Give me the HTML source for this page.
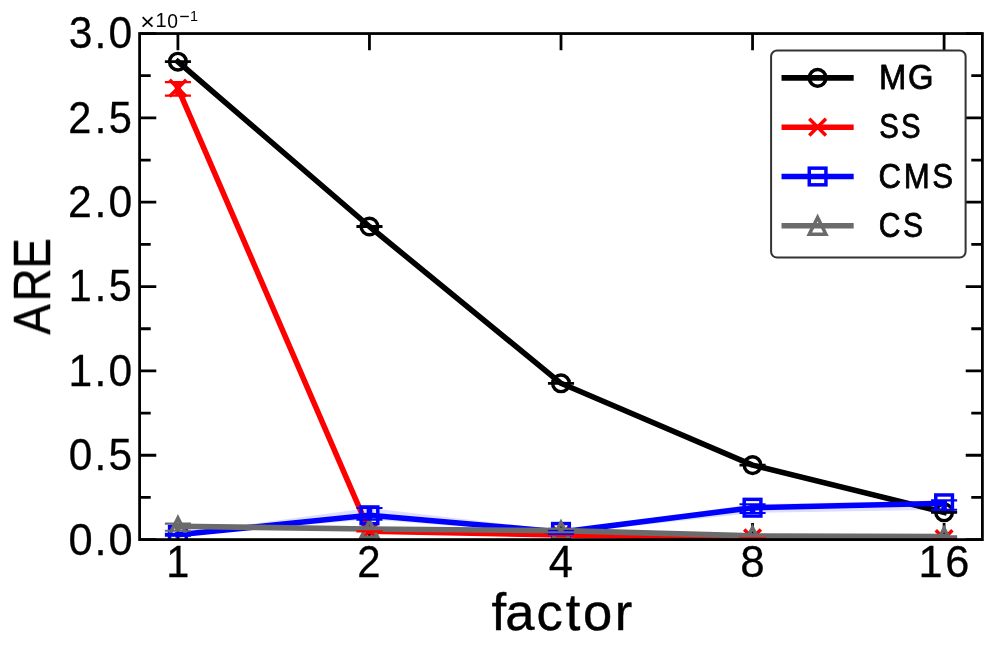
<!DOCTYPE html><html><head><meta charset="utf-8"><style>html,body{margin:0;padding:0;background:#fff;overflow:hidden;width:996px;height:654px;}svg{display:block;}text{font-family:"Liberation Sans",sans-serif;font-kerning:none;fill:#000;}</style></head><body>
<svg width="996" height="654" viewBox="0 0 996 654">
<rect width="996" height="654" fill="#fff"/>
<defs><clipPath id="ax"><rect x="139.60" y="33.55" width="842.80" height="506.05"/></clipPath></defs>
<polygon clip-path="url(#ax)" points="177.91,533.80 369.45,508.00 561.00,530.60 752.55,504.30 944.09,500.40 944.09,509.80 752.55,513.00 561.00,534.00 369.45,519.60 177.91,535.80" fill="#0000ff" fill-opacity="0.13"/>
<path d="M177.91 33.55V50.22M177.91 539.60V522.93M369.45 33.55V50.22M369.45 539.60V522.93M561.00 33.55V50.22M561.00 539.60V522.93M752.55 33.55V50.22M752.55 539.60V522.93M944.09 33.55V50.22M944.09 539.60V522.93M139.60 539.60H156.27M982.40 539.60H965.73M139.60 455.26H156.27M982.40 455.26H965.73M139.60 370.92H156.27M982.40 370.92H965.73M139.60 286.58H156.27M982.40 286.58H965.73M139.60 202.23H156.27M982.40 202.23H965.73M139.60 117.89H156.27M982.40 117.89H965.73M139.60 33.55H156.27M982.40 33.55H965.73M139.60 497.43H150.71M982.40 497.43H971.29M139.60 413.09H150.71M982.40 413.09H971.29M139.60 328.75H150.71M982.40 328.75H971.29M139.60 244.40H150.71M982.40 244.40H971.29M139.60 160.06H150.71M982.40 160.06H971.29M139.60 75.72H150.71M982.40 75.72H971.29" stroke="#000" stroke-width="2.78" fill="none"/>
<g clip-path="url(#ax)">
<polyline points="177.91,61.70 369.45,226.50 561.00,383.30 752.55,465.10 944.09,512.30" fill="none" stroke="#000000" stroke-width="5.56" stroke-linejoin="round" stroke-linecap="square"/>
<circle cx="177.91" cy="61.70" r="8.335" fill="none" stroke="#000000" stroke-width="3.47"/>
<circle cx="369.45" cy="226.50" r="8.335" fill="none" stroke="#000000" stroke-width="3.47"/>
<circle cx="561.00" cy="383.30" r="8.335" fill="none" stroke="#000000" stroke-width="3.47"/>
<circle cx="752.55" cy="465.10" r="8.335" fill="none" stroke="#000000" stroke-width="3.47"/>
<circle cx="944.09" cy="512.30" r="8.335" fill="none" stroke="#000000" stroke-width="3.47"/>
<polyline points="177.91,88.15 369.45,531.20 561.00,535.00 752.55,537.80 944.09,538.60" fill="none" stroke="#ff0000" stroke-width="5.56" stroke-linejoin="round" stroke-linecap="square"/>
<path d="M169.57 79.81L186.24 96.49M169.57 96.49L186.24 79.81" fill="none" stroke="#ff0000" stroke-width="3.47" stroke-linecap="butt"/>
<path d="M361.12 522.87L377.79 539.54M361.12 539.54L377.79 522.87" fill="none" stroke="#ff0000" stroke-width="3.47" stroke-linecap="butt"/>
<path d="M552.66 526.66L569.34 543.34M552.66 543.34L569.34 526.66" fill="none" stroke="#ff0000" stroke-width="3.47" stroke-linecap="butt"/>
<path d="M744.21 529.46L760.88 546.13M744.21 546.13L760.88 529.46" fill="none" stroke="#ff0000" stroke-width="3.47" stroke-linecap="butt"/>
<path d="M935.76 530.26L952.43 546.94M935.76 546.94L952.43 530.26" fill="none" stroke="#ff0000" stroke-width="3.47" stroke-linecap="butt"/>
<polyline points="177.91,534.80 369.45,515.30 561.00,531.90 752.55,507.70 944.09,503.30" fill="none" stroke="#0000ff" stroke-width="5.56" stroke-linejoin="round" stroke-linecap="square"/>
<rect x="169.57" y="526.46" width="16.67" height="16.67" fill="none" stroke="#0000ff" stroke-width="3.47" stroke-linejoin="miter"/>
<rect x="361.12" y="506.96" width="16.67" height="16.67" fill="none" stroke="#0000ff" stroke-width="3.47" stroke-linejoin="miter"/>
<rect x="552.66" y="523.56" width="16.67" height="16.67" fill="none" stroke="#0000ff" stroke-width="3.47" stroke-linejoin="miter"/>
<rect x="744.21" y="499.37" width="16.67" height="16.67" fill="none" stroke="#0000ff" stroke-width="3.47" stroke-linejoin="miter"/>
<rect x="935.76" y="494.97" width="16.67" height="16.67" fill="none" stroke="#0000ff" stroke-width="3.47" stroke-linejoin="miter"/>
<polyline points="177.91,526.30 369.45,529.00 561.00,530.60 752.55,535.90 944.09,536.60" fill="none" stroke="#6b6b6b" stroke-width="5.56" stroke-linejoin="round" stroke-linecap="square"/>
<path d="M177.91 517.96L169.57 534.63L186.24 534.63Z" fill="none" stroke="#6b6b6b" stroke-width="3.47" stroke-linejoin="miter" stroke-miterlimit="10"/>
<path d="M369.45 520.66L361.12 537.34L377.79 537.34Z" fill="none" stroke="#6b6b6b" stroke-width="3.47" stroke-linejoin="miter" stroke-miterlimit="10"/>
<path d="M561.00 522.26L552.66 538.94L569.34 538.94Z" fill="none" stroke="#6b6b6b" stroke-width="3.47" stroke-linejoin="miter" stroke-miterlimit="10"/>
<path d="M752.55 527.56L744.21 544.24L760.88 544.24Z" fill="none" stroke="#6b6b6b" stroke-width="3.47" stroke-linejoin="miter" stroke-miterlimit="10"/>
<path d="M944.09 528.26L935.76 544.94L952.43 544.94Z" fill="none" stroke="#6b6b6b" stroke-width="3.47" stroke-linejoin="miter" stroke-miterlimit="10"/>
<path d="M177.91 61.35V62.05M369.45 226.15V226.85M561.00 382.95V383.65M752.55 464.75V465.45M944.09 511.95V512.65" stroke="#000000" stroke-width="5.56" fill="none"/>
<path d="M164.86 61.35H190.96M164.86 62.05H190.96M356.40 226.15H382.50M356.40 226.85H382.50M547.95 382.95H574.05M547.95 383.65H574.05M739.50 464.75H765.60M739.50 465.45H765.60M931.04 511.95H957.14M931.04 512.65H957.14" stroke="#000000" stroke-width="2.08" fill="none"/>
<path d="M177.91 82.10V95.60M369.45 531.00V531.40M561.00 534.80V535.20M752.55 536.90V538.70M944.09 538.30V538.90" stroke="#ff0000" stroke-width="5.56" fill="none"/>
<path d="M164.86 82.10H190.96M164.86 95.60H190.96M356.40 531.00H382.50M356.40 531.40H382.50M547.95 534.80H574.05M547.95 535.20H574.05M739.50 536.90H765.60M739.50 538.70H765.60M931.04 538.30H957.14M931.04 538.90H957.14" stroke="#ff0000" stroke-width="2.08" fill="none"/>
<path d="M177.91 533.80V535.80M369.45 508.00V519.60M561.00 530.60V534.00M752.55 504.30V513.00M944.09 500.40V509.80" stroke="#0000ff" stroke-width="5.56" fill="none"/>
<path d="M164.86 533.80H190.96M164.86 535.80H190.96M356.40 508.00H382.50M356.40 519.60H382.50M547.95 530.60H574.05M547.95 534.00H574.05M739.50 504.30H765.60M739.50 513.00H765.60M931.04 500.40H957.14M931.04 509.80H957.14" stroke="#0000ff" stroke-width="2.08" fill="none"/>
<path d="M177.91 523.60V530.70M369.45 528.70V529.30M561.00 528.70V532.20M752.55 535.60V536.20M944.09 536.30V536.90" stroke="#6b6b6b" stroke-width="5.56" fill="none"/>
<path d="M164.86 523.60H190.96M164.86 530.70H190.96M356.40 528.70H382.50M356.40 529.30H382.50M547.95 528.70H574.05M547.95 532.20H574.05M739.50 535.60H765.60M739.50 536.20H765.60M931.04 536.30H957.14M931.04 536.90H957.14" stroke="#6b6b6b" stroke-width="2.08" fill="none"/>
</g>
<rect x="139.60" y="33.55" width="842.80" height="506.05" fill="none" stroke="#000" stroke-width="2.78" stroke-linejoin="miter"/>
<rect x="771.10" y="50.50" width="194.50" height="207.10" rx="6" ry="6" fill="#fff" stroke="#333" stroke-width="2"/>
<path d="M784.30 77.85H850.90" stroke="#000000" stroke-width="5.56" stroke-linecap="square"/>
<circle cx="817.60" cy="77.85" r="8.335" fill="none" stroke="#000000" stroke-width="3.47"/>
<path d="M784.30 127.17H850.90" stroke="#ff0000" stroke-width="5.56" stroke-linecap="square"/>
<path d="M809.26 118.83L825.93 135.50M809.26 135.50L825.93 118.83" fill="none" stroke="#ff0000" stroke-width="3.47" stroke-linecap="butt"/>
<path d="M784.30 176.49H850.90" stroke="#0000ff" stroke-width="5.56" stroke-linecap="square"/>
<rect x="809.26" y="168.16" width="16.67" height="16.67" fill="none" stroke="#0000ff" stroke-width="3.47" stroke-linejoin="miter"/>
<path d="M784.30 225.81H850.90" stroke="#6b6b6b" stroke-width="5.56" stroke-linecap="square"/>
<path d="M817.60 217.47L809.26 234.15L825.93 234.15Z" fill="none" stroke="#6b6b6b" stroke-width="3.47" stroke-linejoin="miter" stroke-miterlimit="10"/>
<g style="will-change:transform">
<text transform="scale(0.9793,1)" x="69.86 96.43 110.68" y="554.51" font-size="44.34" stroke="#000" stroke-width="0.30" stroke-linejoin="round">0.0</text>
<text transform="scale(0.9538,1)" x="72.05 99.16 113.79" y="470.17" font-size="44.34" stroke="#000" stroke-width="0.30" stroke-linejoin="round">0.5</text>
<text transform="scale(0.9593,1)" x="71.36 98.57 113.24" y="385.83" font-size="44.34" stroke="#000" stroke-width="0.30" stroke-linejoin="round">1.0</text>
<text transform="scale(0.9355,1)" x="73.54 101.24 116.29" y="301.49" font-size="44.20" stroke="#000" stroke-width="0.30" stroke-linejoin="round">1.5</text>
<text transform="scale(0.9630,1)" x="70.68 98.17 112.76" y="217.14" font-size="44.34" stroke="#000" stroke-width="0.30" stroke-linejoin="round">2.0</text>
<text transform="scale(0.9369,1)" x="72.98 101.07 116.06" y="132.80" font-size="44.34" stroke="#000" stroke-width="0.30" stroke-linejoin="round">2.5</text>
<text transform="scale(0.9613,1)" x="71.45 98.34 112.98" y="48.46" font-size="44.34" stroke="#000" stroke-width="0.30" stroke-linejoin="round">3.0</text>
<text transform="scale(0.9437,1)" x="176.08" y="577.25" font-size="43.96" stroke="#000" stroke-width="0.30" stroke-linejoin="round">1</text>
<text transform="scale(0.9503,1)" x="375.92" y="577.25" font-size="44.11" stroke="#000" stroke-width="0.30" stroke-linejoin="round">2</text>
<text transform="scale(0.9913,1)" x="553.70" y="577.25" font-size="43.96" stroke="#000" stroke-width="0.30" stroke-linejoin="round">4</text>
<text transform="scale(0.9926,1)" x="745.84" y="577.41" font-size="44.34" stroke="#000" stroke-width="0.30" stroke-linejoin="round">8</text>
<text transform="scale(0.9774,1)" x="939.69 967.19" y="577.41" font-size="44.34" stroke="#000" stroke-width="0.30" stroke-linejoin="round">16</text>
<text transform="scale(1.0320,1)" x="476.36 489.68 519.83 548.20 564.99 595.73" y="630.49" font-size="50.95" stroke="#000" stroke-width="0.40" stroke-linejoin="round">factor</text>
<text transform="rotate(-90) scale(0.8919,1)" x="-375.26 -337.95 -301.30" y="50.20" font-size="51.13" stroke="#000" stroke-width="0.40" stroke-linejoin="round">ARE</text>
<text transform="scale(0.9186,1)" x="956.90 988.58" y="88.99" font-size="35.73" stroke="#000" stroke-width="0.80" stroke-linejoin="round">MG</text>
<text transform="scale(0.8220,1)" x="1069.57 1096.22" y="138.31" font-size="35.73" stroke="#000" stroke-width="0.80" stroke-linejoin="round">SS</text>
<text transform="scale(0.8734,1)" x="1005.71 1034.76 1067.50" y="187.63" font-size="35.73" stroke="#000" stroke-width="0.80" stroke-linejoin="round">CMS</text>
<text transform="scale(0.8425,1)" x="1043.16 1071.85" y="236.95" font-size="35.73" stroke="#000" stroke-width="0.80" stroke-linejoin="round">CS</text>
<text transform="scale(1.0502,1)" x="133.55" y="29.81" font-size="23.75">×</text>
<text transform="scale(1.0235,1)" x="151.86" y="27.50" font-size="19.58">1</text>
<text transform="scale(0.9428,1)" x="177.47" y="28.00" font-size="20.48">0</text>
<text transform="scale(0.9118,1)" x="196.54" y="23.28" font-size="19.64">−</text>
<text transform="scale(1.0306,1)" x="184.47" y="20.90" font-size="13.95">1</text>
</g>
</svg></body></html>
